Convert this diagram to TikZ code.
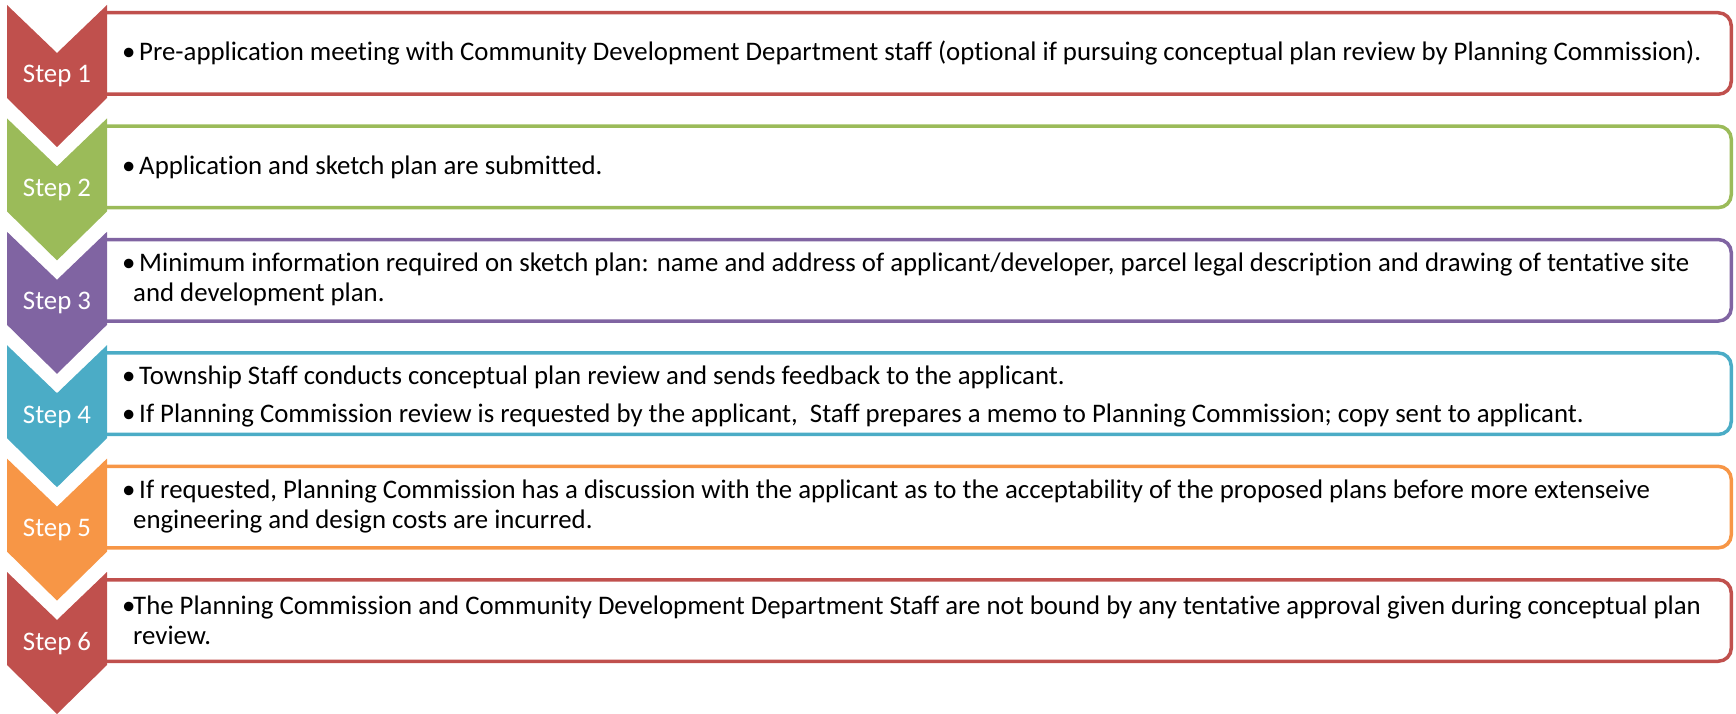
\documentclass[tikz,border=0pt]{standalone}
\usepackage{fontspec}
\setmainfont{Carlito}[Ligatures=NoCommon]
\definecolor{stepred}{HTML}{C0504D}
\definecolor{stepgreen}{HTML}{9BBB59}
\definecolor{steppurple}{HTML}{8064A2}
\definecolor{stepcyan}{HTML}{4BACC6}
\definecolor{steporange}{HTML}{F79646}
% bullet set in a fixed-width box so that wrapped lines hang under the text
\newcommand\bul{\makebox[11pt][l]{•}}
\tikzset{
  panel/.style={draw=#1, line width=3.5pt, rounded corners=13pt},
  steplabel/.style={text=white, font=\fontsize{26.8}{30}\selectfont, inner sep=0pt, anchor=base},
  body/.style={anchor=west, align=left, font=\fontsize{26.8}{30}\selectfont, inner sep=0pt},
}
\begin{document}
\begin{tikzpicture}[x=1pt,y=-1pt]
\useasboundingbox (0,0) rectangle (1736,714);
% step panels (left end hidden under the chevrons) and chevrons
\foreach \t/\c/\n [count=\i] in {5/stepred/1,118.4/stepgreen/2,231.8/steppurple/3,345.2/stepcyan/4,458.6/steporange/5,572/stepred/6}{
  \draw[panel=\c] (103,\t+89.25) -- (1731.25,\t+89.25) -- (1731.25,\t+7.75) -- (103,\t+7.75);
  \fill[\c] (7,\t) -- (57,\t+48) -- (107,\t) -- (107,\t+93) -- (57,\t+142) -- (7,\t+93) -- cycle;
  \node[steplabel] (step\i) at (57,\t+78) {Step \n};
}
\node[body] (text1) at (122,53.5) {\bul\ Pre-application meeting with Community Development Department staff (optional if pursuing conceptual plan review by Planning Commission).};
\node[body] (text2) at (122,166.9) {\bul\ Application and sketch plan are submitted.};
\node[body] (text3) at (122,279.5) {\bul\ Minimum information required on sketch plan: name and address of applicant/developer, parcel legal description and drawing of tentative site\\\hspace*{11pt}and development plan.};
\node[body] (text4) at (122,396) {\bul\ Township Staff conducts conceptual plan review and sends feedback to the applicant.\\[8pt]\bul\ If Planning Commission review is requested by the applicant,\ \ Staff prepares a memo to Planning Commission; copy sent to applicant.};
\node[body] (text5) at (122,506.3) {\bul\ If requested, Planning Commission has a discussion with the applicant as to the acceptability of the proposed plans before more extenseive\\\hspace*{11pt}engineering and design costs are incurred.};
\node[body] (text6) at (122,620) {\bul The Planning Commission and Community Development Department Staff are not bound by any tentative approval given during conceptual plan\\\hspace*{11pt}review.};
\end{tikzpicture}
\end{document}
